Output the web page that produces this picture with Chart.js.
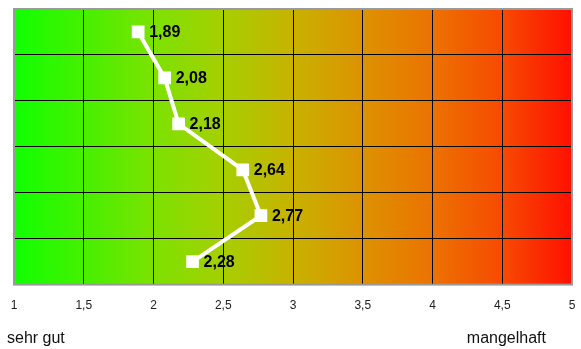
<!DOCTYPE html>
<html>
<head>
<meta charset="utf-8">
<script src="https://cdn.jsdelivr.net/npm/chart.js@4/dist/chart.umd.min.js"></script>
<style>
  html, body { margin: 0; padding: 0; background: #ffffff; }
  #wrap { position: relative; width: 581px; height: 349px; }
</style>
</head>
<body>
<div id="wrap"><canvas id="c" width="581" height="349"></canvas></div>
<script>
// Rating per row (1 = sehr gut ... 5 = mangelhaft)
const rows = ['r1', 'r2', 'r3', 'r4', 'r5', 'r6'];
const grades = [1.89, 2.08, 2.18, 2.64, 2.77, 2.28];
const xTickLabels = ['1', '1,5', '2', '2,5', '3', '3,5', '4', '4,5', '5'];
const scaleEnds = ['sehr gut', 'mangelhaft'];

const fmt = v => v.toFixed(2).replace('.', ',');

// green -> yellow -> red band behind the plot
const gradientBackground = {
  id: 'gradientBackground',
  beforeDraw(chart) {
    const { ctx, chartArea: a } = chart;
    const g = ctx.createLinearGradient(a.left, 0, a.right, 0);
    g.addColorStop(0.00, '#10ff00');
    g.addColorStop(0.125, '#46f000');
    g.addColorStop(0.25, '#7ce200');
    g.addColorStop(0.375, '#a6cf00');
    g.addColorStop(0.50, '#c8b200');
    g.addColorStop(0.625, '#dd9200');
    g.addColorStop(0.75, '#ec7200');
    g.addColorStop(0.875, '#f74a00');
    g.addColorStop(1.00, '#ff1000');
    ctx.save();
    ctx.fillStyle = g;
    ctx.fillRect(a.left, a.top, a.right - a.left, a.bottom - a.top);
    ctx.restore();
  }
};

// grey frame round the plot area
const plotFrame = {
  id: 'plotFrame',
  beforeDatasetsDraw(chart) {
    const { ctx, chartArea: a } = chart;
    ctx.save();
    ctx.strokeStyle = '#9a9a9a';
    ctx.lineWidth = 2;
    ctx.strokeRect(a.left, a.top, a.right - a.left, a.bottom - a.top);
    ctx.restore();
  }
};

// value labels beside each marker, plus the two scale end captions
const labelsPlugin = {
  id: 'labelsPlugin',
  afterDraw(chart) {
    const { ctx } = chart;
    const meta = chart.getDatasetMeta(0);
    ctx.save();
    ctx.fillStyle = '#000000';
    ctx.font = 'bold 16px "Liberation Sans", Arial, sans-serif';
    ctx.textAlign = 'left';
    ctx.textBaseline = 'middle';
    meta.data.forEach((pt, i) => {
      ctx.fillText(fmt(grades[i]), pt.x + 11, pt.y + 1);
    });
    ctx.font = '16px "Liberation Sans", Arial, sans-serif';
    ctx.fillStyle = '#111111';
    ctx.textBaseline = 'alphabetic';
    ctx.textAlign = 'left';
    ctx.fillText(scaleEnds[0], 7, 343);
    ctx.textAlign = 'right';
    ctx.fillText(scaleEnds[1], 546, 343);
    ctx.restore();
  }
};

new Chart(document.getElementById('c'), {
  type: 'line',
  data: {
    labels: rows,
    datasets: [{
      data: grades,
      borderColor: '#ffffff',
      borderWidth: 4,
      pointStyle: 'rect',
      pointRadius: 9,
      pointBackgroundColor: '#ffffff',
      pointBorderColor: '#ffffff',
      pointBorderWidth: 0,
      tension: 0,
      fill: false
    }]
  },
  options: {
    indexAxis: 'y',
    responsive: false,
    animation: false,
    events: [],
    layout: { padding: { left: 14, right: 7, top: 8, bottom: 22 } },
    plugins: { legend: { display: false }, tooltip: { enabled: false } },
    scales: {
      x: {
        type: 'linear',
        min: 1,
        max: 5,
        afterFit(scale) { scale.paddingLeft = 0; scale.paddingRight = 0; },
        ticks: {
          stepSize: 0.5,
          padding: 14,
          color: '#222222',
          font: { size: 12, family: '"Liberation Sans", Arial, sans-serif' },
          callback: (v, i) => xTickLabels[i]
        },
        grid: { color: '#000000', lineWidth: 1, drawTicks: false },
        border: { display: false }
      },
      y: {
        type: 'category',
        offset: true,
        afterFit(scale) { scale.width = 0; },
        ticks: { display: false },
        grid: { color: '#000000', lineWidth: 1, offset: true, drawTicks: false },
        border: { display: false }
      }
    }
  },
  plugins: [gradientBackground, plotFrame, labelsPlugin]
});
</script>
</body>
</html>
